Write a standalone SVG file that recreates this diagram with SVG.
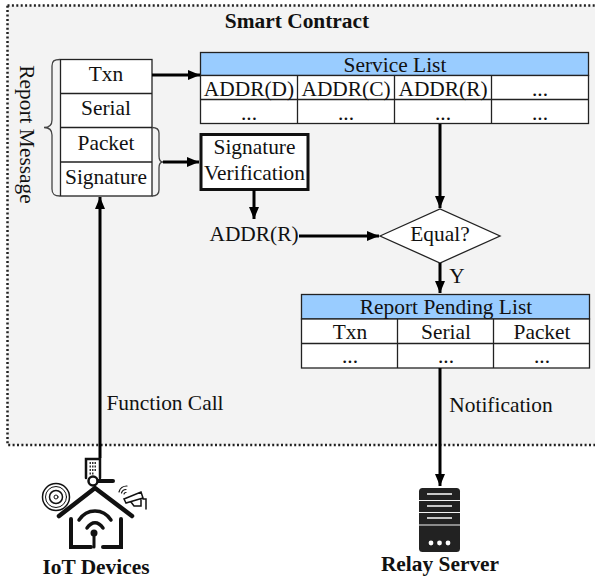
<svg xmlns="http://www.w3.org/2000/svg" width="595" height="582" viewBox="0 0 595 582">
<defs>
<marker id="ah" markerUnits="userSpaceOnUse" markerWidth="12" markerHeight="10" refX="12" refY="5" orient="auto"><path d="M0 0L12 5L0 10Z" fill="#000"/></marker>
</defs>
<style>
text{font-family:"Liberation Serif","Times New Roman",serif;fill:#111;text-anchor:middle;font-size:21.4px}
.b{font-weight:bold}
.cell{fill:#fff;stroke:#222;stroke-width:1.3}
.hd{fill:#99ccff;stroke:#222;stroke-width:1.3}
.ln{stroke:#222;stroke-width:1.3;fill:none}
.c{stroke:#000;stroke-width:3;fill:none;marker-end:url(#ah)}
.brace{stroke:#444;stroke-width:1.3;fill:none}
</style>
<rect id="smart-contract" x="7.500" y="5.500" width="600" height="439.500" fill="#f3f3f3" stroke="#222" stroke-width="2.500" stroke-dasharray="2 2.400"/>
<text class="b" x="297" y="28">Smart Contract</text>

<g id="report-message">
<text transform="translate(20,134.500) rotate(90)">Report Message</text>
<rect class="cell" x="60.500" y="59.500" width="91.500" height="136.500"/>
<path class="ln" d="M60.500 93.500H152M60.500 127.500H152M60.500 162H152"/>
<text x="106" y="81">Txn</text>
<text x="106" y="115">Serial</text>
<text x="106" y="150">Packet</text>
<text x="106" y="184">Signature</text>
<path class="brace" d="M60 59.500C54 59.500 52 61 52 66V120C52 125 50 127.500 44 127.500C50 127.500 52 130 52 135V189C52 194 54 196 60 196"/>
<path class="brace" d="M152 127.500C157 127.500 159 129 159 133V156C159 160 160 162 163 162C160 162 159 164 159 168V190C159 194 157 196 152 196"/>
</g>

<g id="service-list">
<rect class="hd" x="200.500" y="52.500" width="388" height="23"/>
<rect class="cell" x="200.500" y="75.500" width="388" height="48"/>
<path class="ln" d="M200.500 99.500H588.500M297.500 75.500V123.500M394.500 75.500V123.500M491.500 75.500V123.500"/>
<text x="395" y="72">Service List</text>
<text x="249" y="96">ADDR(D)</text>
<text x="346" y="96">ADDR(C)</text>
<text x="443" y="96">ADDR(R)</text>
<text x="540" y="96">...</text>
<text x="249" y="120">...</text>
<text x="346" y="120">...</text>
<text x="443" y="120">...</text>
<text x="540" y="120">...</text>
</g>

<g id="signature-verification">
<rect x="201" y="134.500" width="107" height="55" fill="#fff" stroke="#111" stroke-width="3"/>
<text x="254.500" y="154">Signature</text>
<text x="254.500" y="180">Verification</text>
</g>

<g id="addr-r"><text x="254" y="241">ADDR(R)</text></g>

<g id="equal">
<path d="M380 236L440 209L500 236L440 263Z" fill="#fff" stroke="#222" stroke-width="1.300"/>
<text x="440" y="241">Equal?</text>
</g>

<g id="report-pending-list">
<rect class="hd" x="301.500" y="294.500" width="288" height="24.500"/>
<rect class="cell" x="301.500" y="319" width="288" height="49"/>
<path class="ln" d="M301.500 343.500H589.500M397.500 319V368M493.500 319V368"/>
<text x="446" y="314">Report Pending List</text>
<text x="350" y="339">Txn</text>
<text x="446" y="339">Serial</text>
<text x="542" y="339">Packet</text>
<text x="350" y="363">...</text>
<text x="446" y="363">...</text>
<text x="542" y="363">...</text>
</g>

<g id="connectors">
<path class="c" d="M152 75H200"/>
<path class="c" d="M163 162H199"/>
<path class="c" d="M254 190V219"/>
<path class="c" d="M299 236H379"/>
<path class="c" d="M440 124V208"/>
<path class="c" d="M440 263V293"/>
<path class="c" d="M440 368V486"/>
<path class="c" d="M100 458V197"/>
</g>
<text x="165" y="410">Function Call</text>
<text x="457" y="283">Y</text>
<text x="501" y="412">Notification</text>

<g id="iot-devices">
<g fill="none" stroke="#111" stroke-linecap="round">
<path d="M86 478V459H100V478" stroke-width="2.500" fill="#fff"/>
<path d="M89.500 463h7M89.500 466.500h7M89.500 470h7M89.500 473.500h5" stroke="#333" stroke-width="2" stroke-dasharray="1.500 1" stroke-linecap="butt"/>
<path d="M97 481H113" stroke-width="4"/>
<circle cx="93" cy="481" r="4.500" stroke-width="2.500" fill="#fff"/>
<path d="M59 516L95 488L132 516" stroke-width="4.500"/>
<path d="M71 519V547H91M103 547H121V519" stroke-width="4"/>
<path d="M79 520C87 508 103 508 111 520M87 528C92 521 98 521 103 528" stroke-width="3.500"/>
<path d="M94 533V547" stroke-width="3"/>
<circle cx="56" cy="497" r="13.500" stroke-width="1.500"/>
<circle cx="56" cy="497" r="10.500" stroke-width="1"/>
<circle cx="56" cy="497" r="6.500" stroke-width="1.500"/>
<circle cx="56" cy="497" r="2" stroke-width="1"/>
<path d="M119 492a8 8 0 0 1 8 -6M121.500 493a5 5 0 0 1 4.500 -3.500M124 494a2 2 0 0 1 2 -1.500" stroke-width="1.200"/>
<path d="M124 499L141 492L143 498L126 503ZM131 502L134 506H141V500M143 499H146V509" stroke-width="1.500" fill="#fff"/>
</g>
<circle cx="94" cy="533" r="3.500" fill="#111"/>
<text class="b" x="96" y="574">IoT Devices</text>
</g>

<g id="relay-server">
<rect x="419" y="488" width="41" height="64" rx="3.500" fill="#222"/>
<path d="M419 500.500H460M419 512.500H460M419 525H460" stroke="#f3f3f3" stroke-width="1.200"/>
<path d="M427 494H452M427 506H452M427 518H452" stroke="#fff" stroke-width="1.500"/>
<circle cx="431" cy="543" r="2.400" fill="#fff"/><circle cx="439.500" cy="543" r="2.400" fill="#fff"/><circle cx="448" cy="543" r="2.400" fill="#fff"/>
<text class="b" x="440" y="571">Relay Server</text>
</g>
</svg>
